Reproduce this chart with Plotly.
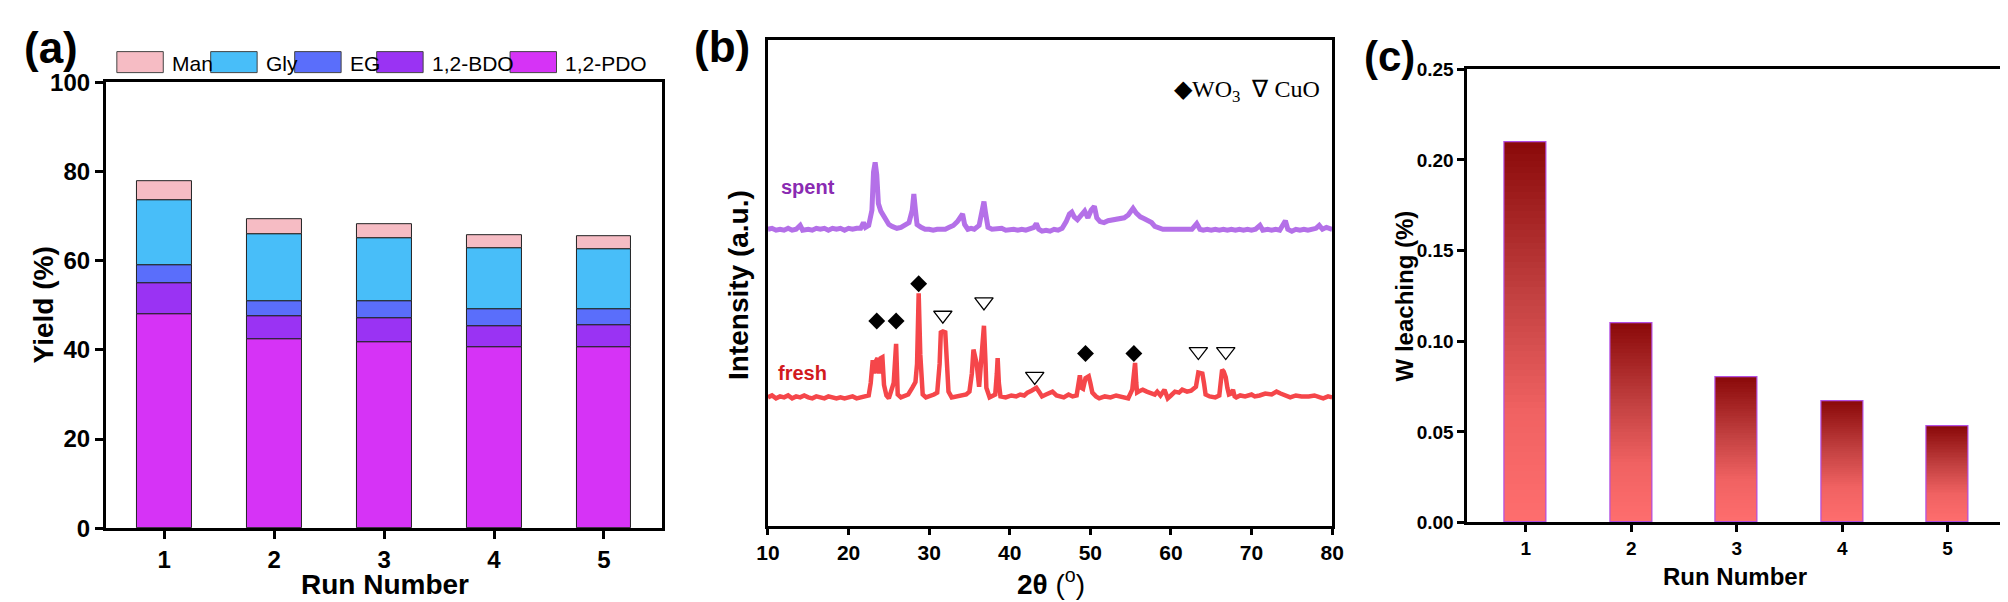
import numpy as np
import plotly.graph_objects as go

W, H = 2008, 602

# ---------------- data ----------------
runs = [1, 2, 3, 4, 5]
pdo = [48.0, 42.3, 41.8, 40.5, 40.6]
bdo = [7.0, 5.2, 5.3, 4.9, 4.9]
eg = [4.0, 3.5, 3.9, 3.6, 3.7]
gly = [14.5, 15.0, 14.0, 13.7, 13.4]
man = [4.3, 3.2, 3.2, 3.0, 2.8]
yield_ticks = [0, 20, 40, 60, 80, 100]

leach = [0.21, 0.11, 0.08, 0.067, 0.053]
leach_ticks = [0.00, 0.05, 0.10, 0.15, 0.20, 0.25]

twotheta_ticks = [10, 20, 30, 40, 50, 60, 70, 80]

spent_2t = [10, 10.5, 11, 11.5, 12, 12.5, 13, 13.5, 14.0, 14.3, 15, 15.5, 16, 16.5, 17, 17.5, 18, 18.5, 19, 19.5,
            20, 20.5, 21, 21.5, 21.85, 22.1, 22.5, 22.9, 23.1, 23.3, 23.5, 23.7, 24.0, 24.3, 24.6, 25.0, 25.4, 26,
            26.5, 27, 27.5, 27.9, 28.1, 28.3, 28.5, 29, 29.5, 30, 30.5, 31, 31.5, 32, 32.5, 33, 33.5, 34.15, 34.4,
            34.8, 35.2, 35.6, 36.2, 36.6, 36.8, 37.0, 37.3, 37.8, 38.5, 39, 39.5, 40, 40.5, 41, 41.5, 42, 42.5,
            43.0, 43.3, 43.6, 44, 44.5, 45, 45.5, 46, 46.5, 47, 47.4, 47.7, 48.0, 48.4, 48.8, 49.3, 49.7, 50.1,
            50.5, 50.8, 51.2, 51.7, 52.2, 52.7, 53.2, 53.7, 54.2, 54.7, 55.3, 55.7, 56.2, 56.7, 57.2, 57.6, 58.0,
            58.5, 59, 59.5, 60, 60.5, 61, 61.5, 62, 62.6, 63.2, 63.6, 64, 64.5, 65, 65.5, 66, 66.5, 67, 67.5, 68,
            68.5, 69, 69.5, 70, 70.5, 71.05, 71.4, 72, 72.5, 73, 73.5, 74.2, 74.5, 75, 75.5, 76, 76.5, 77, 77.5,
            78, 78.4, 78.8, 79.3, 80]
spent_int = [311, 312, 310, 311, 310, 312, 310, 311, 315, 310, 311, 310, 312, 311, 312, 310, 312, 311, 312, 310,
             312, 311, 312, 312, 318, 313, 315, 331, 371, 381, 368, 338, 330, 326, 321, 316, 314, 312,
             313, 315, 318, 331, 348, 331, 316, 313, 311, 311, 310, 311, 311, 311, 313, 315, 319, 327, 316,
             311, 312, 311, 315, 331, 340, 328, 313, 311, 311, 312, 310, 311, 311, 310, 311, 310, 311,
             313, 317, 311, 309, 310, 309, 311, 310, 312, 319, 327, 329, 324, 321, 326, 330, 323, 331,
             335, 323, 319, 318, 320, 321, 321, 322, 323, 326, 333, 328, 324, 322, 320, 318, 314,
             312, 311, 311, 311, 311, 310, 311, 311, 311, 317, 311, 310, 311, 310, 311, 310, 311, 310, 311, 310,
             311, 310, 311, 310, 311, 315, 310, 311, 310, 311, 310, 320, 311, 309, 311, 310, 311, 310, 311,
             312, 315, 311, 313, 311]

fresh_2t = [10, 10.5, 11, 11.5, 12, 12.5, 13, 13.5, 14, 14.5, 15, 15.5, 16, 16.5, 17, 17.5, 18, 18.5, 19, 19.5,
            20, 20.5, 21, 21.5, 22, 22.5, 22.75, 22.9, 23.0, 23.2, 23.4, 23.6, 23.8, 24.0, 24.2, 24.4, 24.7, 25.0,
            25.3, 25.6, 25.9, 26.1, 26.5, 27.0, 27.4, 27.9, 28.3, 28.5, 28.7, 28.9, 29.2, 29.6, 30.1, 30.6, 31.0,
            31.3, 31.45, 31.7, 32.0, 32.2, 32.4, 32.8, 33.4, 34.1, 34.6, 35.0, 35.3, 35.5, 35.7, 35.9, 36.2, 36.4,
            36.6, 36.8, 37.0, 37.1, 37.5, 38.0, 38.2, 38.4, 38.5, 38.65, 38.85, 39.5, 40.2, 40.8, 41.3, 41.8, 42.2,
            42.7, 43.3, 43.7, 44.0, 44.5, 45.3, 45.8, 46.3, 46.7, 47.3, 47.8, 48.3, 48.55, 48.7, 48.9, 49.1, 49.4,
            49.8, 50.0, 50.25, 50.7, 51.1, 51.8, 52.5, 53.2, 54.0, 54.7, 55.2, 55.4, 55.55, 55.7, 55.8, 56.2, 56.5,
            57.0, 57.5, 58.0, 58.3, 58.7, 59.2, 59.4, 59.6, 60.0, 60.5, 61.0, 61.4, 62.0, 62.5, 62.8, 63.1, 63.4,
            63.7, 63.9, 64.1, 64.3, 64.8, 65.5, 66.0, 66.2, 66.35, 66.55, 66.8, 67.0, 67.2, 67.5, 67.7, 67.9, 68.1,
            68.6, 69.2, 70.0, 70.4, 71.0, 71.7, 72.5, 73.1, 73.6, 74.2, 74.8, 75.5, 76.2, 77.1, 77.8, 78.5, 78.9,
            79.5, 80]
fresh_int = [135, 137, 134, 136, 135, 137, 134, 136, 135, 137, 135, 134, 136, 135, 134, 136, 135, 134, 135, 134,
             135, 136, 134, 135, 135, 137, 150, 172, 174, 160, 173, 176, 160, 176, 177, 148, 137, 134,
             141, 150, 191, 138, 135, 137, 138, 145, 151, 170, 244, 180, 138, 135, 136, 138, 140,
             170, 203, 204, 203, 170, 141, 135, 136, 136, 138, 141, 160, 185, 175, 170, 146, 173,
             190, 210, 170, 145, 135, 137, 138, 160, 176, 150, 136, 135, 137, 136, 138, 137, 140,
             142, 145, 140, 136, 138, 141, 137, 136, 135, 138, 136, 137, 150, 158, 145, 144, 155,
             157, 150, 140, 136, 134, 136, 135, 137, 136, 134, 143, 165, 171, 150, 140, 142, 143,
             141, 140, 138, 141, 137, 143, 138, 134, 137, 141, 140, 143, 141, 142, 144, 146, 161,
             160, 160, 150, 138, 136, 135, 137, 155, 164, 162, 156, 145, 138, 139, 143, 136, 135,
             137, 136, 138, 136, 137, 139, 138, 141, 139, 137, 135, 137, 136, 136, 137, 135, 134,
             136, 135]

wo3_2t = [23.5, 25.9, 28.7, 49.4, 55.4]
wo3_int = [215, 215, 254, 181, 181]
cuo_2t = [31.7, 36.8, 43.1, 63.4, 66.8]
cuo_int = [221, 235, 157, 183, 183]

# ---------------- helpers ----------------
FONT = "Liberation Sans, Arial, sans-serif"
SERIF = "Liberation Serif, Times New Roman, serif"


def px(x):
    return x / W


def py(y):
    return 1 - y / H


fig = go.Figure()

# ---------- panel (a): stacked bars (explicit bases, overlay mode) ----------
comps = [("1,2-PDO", pdo, "#D633F6"), ("1,2-BDO", bdo, "#9A33F3"), ("EG", eg, "#5A6EFB"),
         ("Gly", gly, "#48BEF9"), ("Man", man, "#F6BCC4")]
base = np.zeros(len(runs))
for name, vals, col in comps:
    v = np.array(vals, dtype=float)
    fig.add_trace(go.Bar(x=runs, y=v, base=base.copy(), width=0.5, name=name,
                         marker=dict(color=col, line=dict(color="#222222", width=1)),
                         xaxis="x", yaxis="y", showlegend=False))
    base = base + v

# ---------- panel (b): XRD ----------
fig.add_trace(go.Scatter(x=spent_2t, y=spent_int, mode="lines", line=dict(color="#B470E8", width=5),
                         xaxis="x2", yaxis="y2", showlegend=False))
fig.add_trace(go.Scatter(x=fresh_2t, y=fresh_int, mode="lines", line=dict(color="#F5464A", width=4.5),
                         xaxis="x2", yaxis="y2", showlegend=False))
fig.add_trace(go.Scatter(x=wo3_2t, y=wo3_int, mode="markers",
                         marker=dict(symbol="diamond", size=13, color="black"),
                         xaxis="x2", yaxis="y2", showlegend=False))
fig.add_trace(go.Scatter(x=cuo_2t, y=cuo_int, mode="markers",
                         marker=dict(symbol="triangle-down-open", size=16, color="black", line=dict(width=1.3)),
                         xaxis="x2", yaxis="y2", showlegend=False))

# ---------- panel (c): gradient bars ----------
stops = [(0.0, (255, 110, 110)), (0.3, (240, 98, 98)), (0.6, (195, 65, 65)), (1.0, (139, 10, 10))]


def grad(f):
    for (f0, c0), (f1, c1) in zip(stops[:-1], stops[1:]):
        if f <= f1:
            t = (f - f0) / (f1 - f0)
            return "rgb(%d,%d,%d)" % tuple(round(a + (b - a) * t) for a, b in zip(c0, c1))
    return "rgb(%d,%d,%d)" % stops[-1][1]


NLEV = 60
leach_arr = np.array(leach, dtype=float)
for k in range(NLEV):
    frac = 1 - k / NLEV
    fig.add_trace(go.Bar(x=runs, y=leach_arr * frac, width=0.4,
                         marker=dict(color=grad(frac), line=dict(width=0)),
                         xaxis="x3", yaxis="y3", showlegend=False, hoverinfo="skip"))
fig.add_trace(go.Bar(x=runs, y=leach_arr, width=0.4,
                     marker=dict(color="rgba(0,0,0,0)", line=dict(color="#B24FE2", width=1.2)),
                     xaxis="x3", yaxis="y3", showlegend=False))

# ---------------- axes ----------------
tick_a = dict(family=FONT, size=24, color="black", weight="bold")
tick_b = dict(family=FONT, size=21, color="black", weight="bold")
tick_c = dict(family=FONT, size=19, color="black", weight="bold")

common = dict(showgrid=False, zeroline=False, showline=True, linecolor="black", mirror=True,
              ticks="outside", tickcolor="black")

fig.update_layout(
    width=W, height=H, autosize=False, margin=dict(l=0, r=0, t=0, b=0),
    paper_bgcolor="white", plot_bgcolor="white", barmode="overlay", bargap=0,
    xaxis=dict(domain=[px(87), px(650)], anchor="y", range=[0.47, 5.53], tickvals=runs,
               tickfont=tick_a, linewidth=3, tickwidth=3, ticklen=8, **common),
    yaxis=dict(domain=[py(530), py(63)], anchor="x", range=[0, 100], tickvals=yield_ticks,
               tickfont=tick_a, linewidth=3, tickwidth=3, ticklen=8, **common),
    xaxis2=dict(domain=[px(757), px(1328)], anchor="y2", range=[10, 80], tickvals=twotheta_ticks,
                tickfont=tick_b, linewidth=2.5, tickwidth=2.5, ticklen=6, **common),
    yaxis2=dict(domain=[py(528), py(19)], anchor="x2", range=[0, 509], showticklabels=False,
                showgrid=False, zeroline=False, showline=True, linecolor="black", mirror=True,
                linewidth=2.5, ticks=""),
    xaxis3=dict(domain=[px(1465), px(2004)], anchor="y3", range=[0.447, 5.497], tickvals=runs,
                tickfont=tick_c, linewidth=3, tickwidth=3, ticklen=7, **common),
    yaxis3=dict(domain=[py(524), py(49.5)], anchor="x3", range=[0, 0.25], tickvals=leach_ticks,
                tickformat=".2f", tickfont=tick_c, linewidth=3, tickwidth=3, ticklen=7, **common),
)

# ---------------- annotations ----------------
ann = []


def text(x, y, s, size, bold=True, family=FONT, color="black", angle=0, xanchor="center", yanchor="middle"):
    ann.append(dict(x=px(x), y=py(y), xref="paper", yref="paper", text=s, showarrow=False,
                    textangle=angle, xanchor=xanchor, yanchor=yanchor,
                    font=dict(family=family, size=size, color=color, weight="bold" if bold else "normal")))


# panel labels
text(2, 27, "(a)", 44, xanchor="left")
text(680, 26, "(b)", 44, xanchor="left")
text(1358, 36, "(c)", 42, xanchor="left")

# axis titles
text(369, 589, "Run Number", 28)
text(24, 296, "Yield (%)", 28, angle=-90)
text(1043, 586, "<b>2θ</b> (<sup>o</sup>)", 28, bold=False)
text(727, 275, "Intensity (a.u.)", 28, angle=-90)
text(1736, 581, "Run Number", 24)
text(1401, 287, "W leaching (%)", 24, angle=-90)

# XRD curve labels (data coords)
ann.append(dict(x=15.0, y=355, xref="x2", yref="y2", text="spent", showarrow=False,
                font=dict(family=FONT, size=20, color="#8A2BB2", weight="bold")))
ann.append(dict(x=14.3, y=161, xref="x2", yref="y2", text="fresh", showarrow=False,
                font=dict(family=FONT, size=20, color="#D21A1E", weight="bold")))

# phase legend (panel b)
text(1318, 72, "◆WO<sub>3</sub>  ∇ CuO", 24, bold=False, family=SERIF, xanchor="right")

# legend (panel a)
shapes = []
leg = [("Man", "#F6BCC4", 98), ("Gly", "#48BEF9", 193), ("EG", "#5A6EFB", 278),
       ("1,2-BDO", "#9A33F3", 361), ("1,2-PDO", "#D633F6", 496)]
for name, col, x0 in leg:
    shapes.append(dict(type="rect", xref="paper", yref="paper", x0=px(x0), x1=px(x0 + 47),
                       y0=py(53), y1=py(31), fillcolor=col, line=dict(color="#444444", width=1)))
    text(x0 + 54, 43, name, 21, bold=False, xanchor="left")

fig.update_layout(annotations=ann, shapes=shapes)
fig.write_html("out.html")
